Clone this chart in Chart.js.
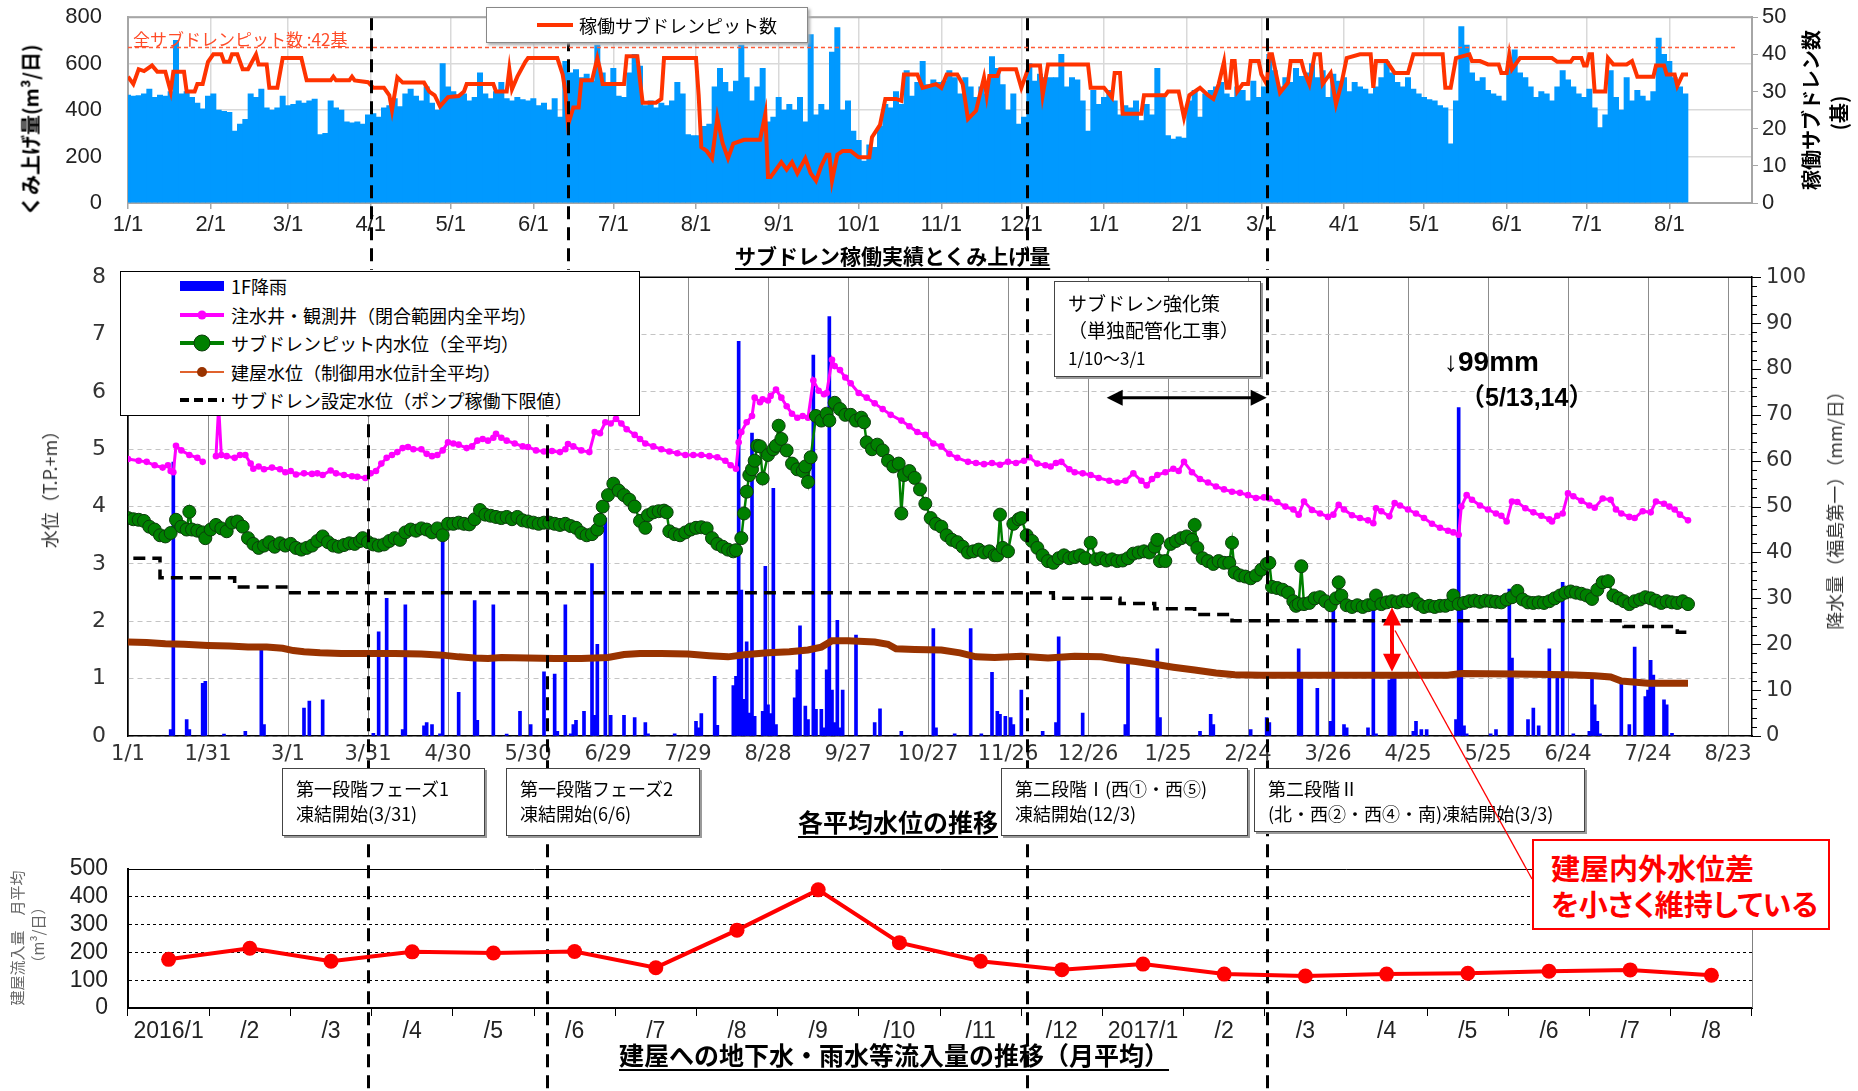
<!DOCTYPE html>
<html lang="ja">
<head>
<meta charset="utf-8">
<title>サブドレン稼働実績と各平均水位の推移</title>
<script src="https://cdn.jsdelivr.net/npm/chart.js@4.4.1/dist/chart.umd.min.js"></script>
<style>
  body { margin: 0; background: #fff; font-family: "Noto Sans CJK JP", sans-serif; color: #000; }
  #page { position: relative; width: 1858px; height: 1091px; overflow: hidden; }
  canvas { position: absolute; left: 0; }
  #pumpCanvas { top: 0; }
  #levelCanvas { top: 262px; }
  #inflowCanvas { top: 850px; }
  .abs { position: absolute; white-space: nowrap; }
  .title { font-weight: bold; text-decoration: underline; text-underline-offset: 4px; }
  .vt { position: absolute; white-space: nowrap; transform: translate(-50%, -50%) rotate(-90deg); }
  .note { position: absolute; background: #fff; border: 1px solid #444; box-shadow: 2px 2px 0 #9a9a9a;
          font-size: 18px; line-height: 25px; padding: 7px 0 0 13px; box-sizing: border-box; white-space: nowrap; }
  #pumpLegend { left: 486px; top: 7px; width: 322px; height: 36px; border: 1px solid #888; background: #fff;
                box-shadow: 2px 2px 3px #aaa; box-sizing: border-box; display: flex; align-items: center; font-size: 18px; }
  #pumpLegend svg { margin: 0 6px 0 50px; }
  #levelLegend { left: 120px; top: 271px; width: 520px; height: 145px; border: 1.5px solid #000; background: #fff;
                 box-sizing: border-box; font-size: 18px; }
  .lg { height: 28.5px; display: flex; align-items: center; }
  .lg svg { margin: 0 6px 0 58px; }
  #callout { left: 1532px; top: 839px; width: 298px; height: 91px; border: 2.5px solid #ff0000; background: #fff;
             box-sizing: border-box; color: #ff0000; font-weight: bold; font-size: 29px; line-height: 36px;
             padding: 8px 0 0 17px; font-feature-settings: "palt"; }
  #leader { position: absolute; left: 0; top: 0; pointer-events: none; }
</style>
</head>
<body>
<div id="page">
  <canvas id="pumpCanvas" width="1858" height="270"></canvas>
  <canvas id="levelCanvas" width="1858" height="829"></canvas>
  <canvas id="inflowCanvas" width="1858" height="241"></canvas>

  <!-- top chart texts -->
  <div id="pumpLegend" class="abs"><svg width="36" height="10"><line x1="0" y1="5" x2="36" y2="5" stroke="#ff3300" stroke-width="4"/></svg><span>稼働サブドレンピット数</span></div>
  <div class="abs" style="left:133px; top:26px; font-size:17px; color:#ff4b28;">全サブドレンピット数 :42基</div>
  <div class="vt" style="left:30px; top:130px; font-size:20px; font-weight:bold;">くみ上げ量(m³/日)</div>
  <div class="vt" style="left:1810px; top:110px; font-size:20px; font-weight:bold;">稼働サブドレン数</div>
  <div class="vt" style="left:1838px; top:113px; font-size:20px; font-weight:bold;">(基)</div>
  <div class="abs title" style="left:735px; top:240px; font-size:21px; line-height:30px;">サブドレン稼働実績とくみ上げ量</div>

  <!-- middle chart texts -->
  <div id="levelLegend" class="abs">
    <div class="lg"><svg width="46" height="20"><rect x="1" y="5" width="44" height="10" fill="#0000ff"/></svg><span>1F降雨</span></div>
    <div class="lg"><svg width="46" height="20"><line x1="1" y1="10" x2="45" y2="10" stroke="#ff00ff" stroke-width="4"/><circle cx="23" cy="10" r="4.5" fill="#ff00ff"/></svg><span>注水井・観測井（閉合範囲内全平均）</span></div>
    <div class="lg"><svg width="46" height="20"><line x1="1" y1="10" x2="45" y2="10" stroke="#008000" stroke-width="4"/><circle cx="23" cy="10" r="8" fill="#008000" stroke="#0b3d0b" stroke-width="1"/></svg><span>サブドレンピット内水位（全平均）</span></div>
    <div class="lg"><svg width="46" height="20"><line x1="1" y1="10" x2="45" y2="10" stroke="#e0622d" stroke-width="2"/><circle cx="23" cy="10" r="5" fill="#993300"/></svg><span>建屋水位（制御用水位計全平均）</span></div>
    <div class="lg"><svg width="46" height="20"><line x1="1" y1="10" x2="45" y2="10" stroke="#000" stroke-width="4" stroke-dasharray="9,5"/></svg><span>サブドレン設定水位（ポンプ稼働下限値）</span></div>
  </div>
  <div class="vt" style="left:49px; top:485px; font-size:18px; color:#333;">水位（T.P.+m）</div>
  <div class="vt" style="left:1834px; top:506px; font-size:18px; color:#333;">降水量（福島第一）（mm/日）</div>
  <div class="note" style="left:1054px; top:281px; width:207px; height:96px; font-size:19px; line-height:27px; padding-top:7px;">サブドレン強化策<br>（単独配管化工事）<br><span style="font-size:17px;">1/10～3/1</span></div>
  <div class="abs" style="left:1444px; top:344px; font-size:28px; line-height:36px; font-weight:bold; font-family:'Liberation Sans','Noto Sans CJK JP',sans-serif;">↓99mm</div>
  <div class="abs" style="left:1460px; top:381px; font-size:25px; line-height:32px; font-weight:bold; font-family:'Liberation Sans','Noto Sans CJK JP',sans-serif;">（5/13,14）</div>

  <div class="note" style="left:282px; top:768px; width:203px; height:68px;">第一段階フェーズ1<br>凍結開始(3/31)</div>
  <div class="note" style="left:506px; top:768px; width:194px; height:68px;">第一段階フェーズ2<br>凍結開始(6/6)</div>
  <div class="note" style="left:1001px; top:768px; width:247px; height:68px;">第二段階Ⅰ(西①・西⑤)<br>凍結開始(12/3)</div>
  <div class="note" style="left:1254px; top:768px; width:331px; height:64px;">第二段階Ⅱ<br>(北・西②・西④・南)凍結開始(3/3)</div>
  <div class="abs title" style="left:798px; top:804px; font-size:25px; line-height:34px;">各平均水位の推移</div>

  <!-- bottom chart texts -->
  <div class="vt" style="left:16px; top:938px; font-size:15px; color:#666;">建屋流入量　月平均</div>
  <div class="vt" style="left:37px; top:935px; font-size:15px; color:#666;">（m³/日）</div>
  <div class="abs title" style="left:619px; top:1037px; font-size:25px; line-height:34px;">建屋への地下水・雨水等流入量の推移（月平均）</div>
  <div id="callout" class="abs">建屋内外水位差<br>を小さく維持している</div>

  <svg id="leader" width="1858" height="1091"></svg>
</div>

<script>
// ===============================
//  DATA (day 0 = 2016/1/1)
// ===============================

// --- サブドレン稼働実績とくみ上げ量 ---
const pumpFirstDay = 0;
const pumpStepDays = 2;
const pumpVolume = [
  465,460,462,470,490,455,465,460,480,700,
  470,480,455,430,405,460,470,400,395,390,
  310,340,360,470,455,490,410,400,410,460,
  420,425,440,430,440,447,295,300,440,410,
  400,350,345,350,340,380,385,370,410,420,
  450,415,470,490,460,440,500,430,400,600,
  500,480,465,470,440,455,560,470,450,480,
  520,450,440,455,445,440,450,420,430,400,
  450,370,610,560,575,540,555,525,680,560,
  510,580,460,455,560,640,590,420,440,410,
  430,420,440,520,470,295,290,290,330,340,
  500,580,520,480,525,680,540,440,500,580,
  350,370,455,400,425,400,455,350,725,380,
  425,400,650,755,400,440,310,270,180,250,
  240,330,425,410,480,425,570,460,520,610,
  510,530,520,525,570,540,470,540,500,455,
  500,470,630,580,510,400,470,340,370,600,
  525,555,540,540,540,640,500,540,530,440,
  310,485,425,455,485,440,380,420,410,440,
  355,425,380,580,455,290,275,285,280,440,
  485,370,470,485,500,520,470,455,500,485,
  440,525,455,500,640,570,500,540,520,580,
  545,560,600,540,570,455,555,525,540,480,
  520,500,490,470,500,540,610,560,520,500,
  540,490,470,455,445,440,420,410,255,440,
  760,680,560,525,540,485,470,460,440,610,
  660,560,540,500,455,480,470,440,500,570,
  530,500,470,455,490,410,325,380,570,455,
  400,540,440,485,460,440,480,710,640,610,
  540,500,470
];
const pitDays = [
  0,2,4,6,9,11,14,16,17,21,
  22,25,26,28,30,32,35,36,38,39,
  41,43,45,48,49,52,53,56,58,65,
  67,76,77,78,83,84,85,90,92,96,
  98,99,101,103,111,113,115,117,120,124,
  126,127,137,138,142,143,144,146,149,150,
  161,163,164,165,167,169,170,174,176,177,
  178,186,187,191,192,193,198,200,201,213,
  214,215,217,219,221,223,225,227,231,237,
  239,240,241,243,245,247,249,251,254,256,
  258,260,262,263,264,266,268,271,274,278,
  279,282,284,288,290,291,296,298,303,305,
  307,311,313,315,318,321,322,323,326,327,
  333,335,338,342,343,345,360,361,366,369,
  370,372,373,380,381,389,390,394,396,398,
  402,405,407,409,411,412,413,414,415,416,
  418,420,421,424,425,427,428,429,432,435,
  436,440,441,443,445,447,448,451,453,455,
  457,462,466,467,468,472,475,480,482,493,
  494,496,498,503,504,507,510,514,515,517,
  518,519,522,534,536,541,542,545,546,547,
  548,549,550,554,555,557,562,564,566,572,
  573,576,577,580,581,583,585
];
const pitCount = [
  34,32,36,35.5,37,35.3,35.3,30,35.3,35.3,
  30,30,32,32,38,40,40,38,38,40,
  40,36,36,40,37.3,37.3,31,31,39,39,
  33,33,34,33,33,34,33,32.5,31,31,
  29,25,33.8,32.4,32.4,30,29,26,28.5,28.8,
  30,32,32,30,30,36,30.6,34,38,39,
  39,34.6,30,21,25.7,25.7,33,33,39,36,
  32,32,39.5,39.5,33,27,27,28,39,39,
  29,15,14,12,23,16,12,16,17,17,
  24,7,7,9,11,9,11,8,12,8,
  6,10,13,13,6,13,14,14,12.3,12.3,
  17.7,21,28,28,27.5,34.6,34.6,31,32,31,
  34.6,34.6,32,22.6,24.8,33.8,29,34.2,34.2,36,
  36,31,37,37,29,37.3,37.3,31,31,28.4,
  35,35,24,24,29,29,30,30,23,29,
  31,29,28,32,38,31,31,38.2,38.2,30,
  32,32,38.2,38.2,34.6,32,40,40,29.7,32.4,
  38.2,38.2,35.5,32,40,40,32,35,26.6,32,
  39,40,40,31,38.2,38.2,35,35,40,40,
  31,31,39,40,38.2,38.2,37.3,37.3,35,35,
  40,36,39,39,38,38,39,39,37,37,
  40,40,30,30,39,37.3,37.3,38.2,34,34,
  37,37,34.6,34.6,31.5,34.6,34.6
];
const totalPits = 42;
const topTickDays = [0,31,60,91,121,152,182,213,244,274,305,335,366,397,425,456,486,517,547,578];
const topTickLabels = ['1/1','2/1','3/1','4/1','5/1','6/1','7/1','8/1','9/1','10/1','11/1','12/1',
                       '1/1','2/1','3/1','4/1','5/1','6/1','7/1','8/1'];
const topFreezeDays = [91, 165, 337, 427];

// --- 各平均水位の推移 ---
const levelTickDays = [0,30,60,90,120,150,180,210,240,270,300,330,360,390,420,450,480,510,540,570,600];
const levelTickLabels = ['1/1','1/31','3/1','3/31','4/30','5/30','6/29','7/29','8/28','9/27','10/27',
                         '11/26','12/26','1/25','2/24','3/26','4/25','5/25','6/24','7/24','8/23'];
const freezeDays = [90, 157, 337, 427];

const gwDays = [
  0,4,7,10,13,15,16,17,18,20,
  23,26,28,30,33,34,35,37,40,42,
  44,46,47,49,51,54,57,59,61,63,
  66,69,71,73,76,78,81,84,86,89,
  91,93,95,97,99,101,103,105,107,110,
  112,114,116,118,120,122,124,127,129,131,
  133,135,137,138,140,142,145,148,150,153,
  156,159,162,164,165,167,170,173,175,177,
  179,181,183,185,187,190,192,194,197,200,
  203,206,209,212,215,218,221,224,226,228,
  229,230,232,234,235,237,238,240,241,243,
  245,247,249,251,253,255,257,259,261,262,
  264,265,267,269,271,274,277,280,283,286,
  290,293,296,299,302,305,308,311,315,318,
  321,324,327,330,333,336,338,341,344,346,
  348,350,353,355,358,361,364,368,371,374,
  377,380,382,384,386,389,392,394,396,399,
  402,405,408,411,414,417,420,423,426,428,
  431,434,437,439,441,444,447,450,452,454,
  456,459,462,465,467,468,470,473,475,477,
  480,483,486,489,492,495,497,499,500,502,
  504,507,510,513,515,517,519,521,524,527,
  530,533,534,536,538,540,542,545,548,550,
  553,556,558,560,563,565,568,571,573,576,
  578,580,582,585
];
const gwLevel = [
  4.83,4.8,4.78,4.72,4.68,4.72,4.62,4.6,5.06,4.98,
  4.9,4.85,4.78,null,4.88,5.75,4.9,4.88,4.85,4.9,
  4.9,4.75,4.66,4.7,4.65,4.68,4.65,4.6,4.62,4.56,
  4.58,4.57,4.58,4.55,4.63,4.58,4.55,4.53,4.52,4.5,
  4.58,4.62,4.75,4.85,4.9,4.95,5.02,5.04,5.0,5.0,
  4.92,4.88,4.9,4.98,5.12,5.1,5.08,5.02,5.05,5.15,
  5.18,5.15,5.2,5.27,5.2,5.15,5.1,5.05,5.04,4.98,
  4.96,4.97,4.95,5.0,5.09,5.05,4.98,4.95,5.3,5.28,
  5.47,5.45,5.53,5.45,5.35,5.25,5.18,5.1,5.05,5.0,
  4.96,4.93,4.9,4.9,4.9,4.88,4.86,4.8,4.72,4.66,
  5.12,5.3,5.47,5.58,5.9,5.82,5.87,5.85,5.93,6.04,
  5.9,5.75,5.62,5.55,5.58,5.55,6.2,6.02,5.96,5.98,
  6.56,6.45,6.38,6.25,6.15,5.98,5.9,5.8,5.7,5.6,
  5.5,5.4,5.3,5.25,5.1,5.05,4.92,4.85,4.78,4.76,
  4.74,4.76,4.73,4.78,4.76,4.8,4.86,4.75,4.72,4.7,
  4.76,4.78,4.65,4.6,4.58,4.55,4.5,4.45,4.42,4.45,
  4.58,4.45,4.37,4.48,4.55,4.6,4.66,4.62,4.78,4.6,
  4.48,4.42,4.35,4.3,4.26,4.24,4.2,4.15,4.16,4.14,
  4.08,4.0,3.95,3.86,4.09,3.94,3.88,3.82,3.86,4.03,
  3.95,3.85,3.8,3.76,3.71,3.97,3.92,3.83,4.06,4.02,
  3.95,3.88,3.8,3.7,3.63,3.58,3.55,3.51,4.0,4.2,
  4.12,4.02,3.95,3.88,3.84,3.74,4.09,4.08,3.97,3.9,
  3.84,3.78,3.74,3.84,3.88,4.23,4.18,4.1,4.02,3.98,
  4.14,4.12,3.95,3.88,3.82,3.8,3.92,3.9,4.09,4.05,
  4.0,3.95,3.86,3.76
];

const pitLevelDays = [
  0,2,4,6,8,10,12,14,16,18,
  20,22,23,24,26,28,29,31,33,35,
  37,39,41,43,45,47,49,51,53,55,
  57,59,61,63,65,67,69,71,73,75,
  77,79,81,83,85,87,88,90,92,94,
  96,98,100,102,104,106,108,110,112,114,
  116,118,120,122,124,126,128,130,132,134,
  136,138,140,142,144,146,148,150,152,154,
  156,158,160,162,164,166,168,170,172,174,
  176,177,178,180,182,184,186,188,190,192,
  194,195,197,199,201,202,203,205,207,209,
  211,213,215,217,219,221,223,225,227,228,
  230,231,232,233,234,235,236,237,238,240,
  242,243,244,245,247,249,251,253,254,255,
  256,258,260,262,263,265,267,269,271,273,
  275,276,277,279,281,283,285,287,289,290,
  291,293,295,297,299,301,303,305,307,309,
  311,313,315,317,319,321,323,325,326,327,
  328,330,332,334,335,337,339,341,343,345,
  347,349,351,353,355,357,359,361,363,365,
  367,369,371,373,375,377,379,381,383,385,
  386,387,389,391,393,395,397,399,400,401,
  403,405,407,409,411,413,414,415,417,419,
  421,423,425,427,428,429,431,433,435,437,
  438,439,440,441,443,445,447,449,451,453,
  454,455,457,459,461,463,465,467,468,470,
  472,474,476,478,480,482,484,486,488,490,
  492,494,496,497,499,501,503,505,507,509,
  511,513,515,517,519,521,523,525,527,529,
  531,533,535,537,539,541,543,545,547,549,
  551,553,555,557,559,561,563,565,567,569,
  571,573,575,577,579,581,583,585
];
const pitLevel = [
  3.8,3.78,3.77,3.75,3.65,3.6,3.5,3.48,3.54,3.77,
  3.65,3.6,3.91,3.6,3.58,3.55,3.45,3.6,3.68,3.62,
  3.57,3.72,3.74,3.65,3.45,3.35,3.28,3.32,3.38,3.3,
  3.36,3.32,3.35,3.28,3.25,3.28,3.32,3.4,3.48,3.38,
  3.32,3.3,3.33,3.36,3.35,3.4,3.45,3.38,3.34,3.32,
  3.34,3.4,3.45,3.42,3.55,3.6,3.58,3.62,3.6,3.55,
  3.62,3.5,3.7,3.7,3.72,3.7,3.69,3.78,3.94,3.86,
  3.84,3.82,3.8,3.82,3.78,3.82,3.76,3.74,3.72,3.7,
  3.72,3.72,3.7,3.68,3.7,3.66,3.63,3.54,3.5,3.52,
  3.6,3.77,4.0,4.2,4.4,4.28,4.2,4.12,4.0,3.75,
  3.63,3.85,3.9,3.92,3.93,3.9,3.57,3.52,3.5,3.55,
  3.6,3.63,3.64,3.62,3.45,3.35,3.3,3.25,3.22,3.24,
  3.45,3.88,4.26,4.55,4.65,4.8,5.06,5.05,4.49,4.9,
  5.0,5.06,5.41,5.18,4.98,4.75,4.65,4.62,4.7,4.43,
  4.86,5.58,5.5,5.62,5.5,5.81,5.7,5.6,5.6,5.5,
  5.55,5.47,5.12,5.0,5.08,4.98,4.8,4.7,4.75,3.88,
  4.55,4.62,4.5,4.3,4.05,3.8,3.7,3.65,3.5,3.42,
  3.38,3.3,3.2,3.22,3.25,3.2,3.22,3.15,3.15,3.86,
  3.28,3.22,3.7,3.78,3.8,3.5,3.4,3.28,3.15,3.05,
  3.02,3.1,3.15,3.1,3.12,3.15,3.1,3.37,3.08,3.1,
  3.06,3.08,3.05,3.06,3.1,3.18,3.2,3.22,3.2,3.3,
  3.42,3.05,3.05,3.35,3.4,3.45,3.48,3.42,3.68,3.28,
  3.1,3.05,3.0,3.05,3.02,3.02,3.37,2.85,2.8,2.78,
  2.75,2.8,2.9,3.0,3.02,2.6,2.58,2.55,2.5,2.35,
  2.27,2.3,2.96,2.3,2.32,2.4,2.42,2.35,2.28,2.4,
  2.68,2.45,2.28,2.25,2.28,2.25,2.28,2.3,2.45,2.3,
  2.33,2.35,2.33,2.36,2.35,2.39,2.3,2.25,2.27,2.25,
  2.27,2.27,2.3,2.45,2.3,2.32,2.35,2.36,2.34,2.36,
  2.35,2.34,2.33,2.38,2.42,2.53,2.38,2.33,2.32,2.33,
  2.32,2.35,2.4,2.45,2.5,2.52,2.5,2.48,2.45,2.39,
  2.55,2.68,2.7,2.45,2.4,2.35,2.3,2.35,2.38,2.42,
  2.4,2.36,2.32,2.35,2.33,2.32,2.35,2.3
];

const buildingDays = [
  0,7,14,21,30,38,45,52,58,62,
  66,72,80,90,100,110,118,124,130,135,
  140,150,160,170,180,186,192,200,210,218,
  225,232,240,248,255,260,264,270,280,285,
  288,295,305,312,318,325,335,345,355,365,
  372,378,385,392,400,408,415,425,440,460,
  480,495,500,520,540,550,556,560,570,585
];
const buildingLevel = [
  1.64,1.63,1.61,1.6,1.58,1.57,1.55,1.55,1.53,1.49,
  1.47,1.45,1.44,1.44,1.44,1.43,1.41,1.38,1.36,1.35,
  1.37,1.36,1.35,1.35,1.37,1.42,1.44,1.44,1.43,1.4,
  1.38,1.42,1.45,1.47,1.5,1.55,1.66,1.66,1.64,1.6,
  1.52,1.51,1.5,1.45,1.38,1.37,1.39,1.36,1.39,1.38,
  1.33,1.3,1.25,1.2,1.15,1.1,1.07,1.06,1.06,1.06,
  1.06,1.06,1.09,1.08,1.07,1.05,1.03,0.96,0.92,0.92
];

const setDays = [2,12,40,61,347,372,385,400,414,561,581,586];
const setLevel = [3.1,2.76,2.6,2.5,2.4,2.31,2.22,2.12,2.01,1.91,1.81,1.81];

const rainDays = [
  16,17,22,23,28,29,36,44,50,51,
  66,68,73,92,94,97,103,104,111,112,
  114,117,118,124,130,131,137,142,147,151,
  156,160,161,164,166,167,168,171,174,175,
  176,179,181,186,190,194,195,205,213,214,
  215,220,221,227,228,229,230,231,232,233,
  234,235,238,239,240,241,242,243,250,251,
  252,254,255,257,258,260,261,262,263,264,
  265,266,267,268,273,280,282,290,302,303,
  310,316,320,324,326,327,329,331,332,335,
  343,348,349,358,374,375,386,387,402,406,
  407,421,427,428,439,440,446,451,452,456,
  457,465,467,468,473,474,475,482,483,485,
  487,498,499,500,501,502,511,513,518,519,
  525,527,529,533,536,538,542,548,549,550,
  551,552,560,563,565,569,570,571,572,576,
  577,579
];
const rainMm = [
  1.4,59.7,3.6,1.4,11.5,11.9,0.4,1,18.7,2.5,
  6.1,7.6,7.9,0.6,22.7,30,1.4,28.6,2.2,2.9,
  2.5,0.5,42.8,9.5,29.5,3.4,28.6,0.4,5.4,2.5,
  14,13.5,1,28.6,0.5,2.5,3.4,5.4,37.6,4.5,
  20,47.5,4.5,4.5,4,2.9,0.5,0.5,3.2,1.8,
  4.9,13,2.3,11,13,86,31.8,8,20.5,5,
  66,4.3,5.4,37,6.8,4.9,54,2.5,8.3,14.4,
  24,6.5,3.6,83,5.8,5.8,1.8,14.4,91.4,10,
  2.9,25.2,1.8,10,22,2.9,5.9,1,23.4,1.8,
  0.5,23.4,0.5,13.9,5.4,4.7,4.3,4,2.5,10,
  1,2.9,21.6,5,2.5,17,19,4,1,4.7,
  2.5,1.4,4,2.9,19,12.4,10.4,3.2,27.7,2.5,
  1.8,1.8,29,0.5,12.2,13.3,13,1,3.2,1.4,
  1.4,3.6,71.6,28,2.2,0.5,0.5,1.4,32,17,
  3.6,6.1,2.2,19,12.6,33.5,0.5,1,12.6,6.8,
  3.2,0.5,11.9,2.5,19.4,8.6,10,16.5,13.3,7.9,
  6.8,0.6
];

// annotation anchors (days / levels)
const strengthenSpan = [367, 427];
const strengthenArrowLevel = 5.9;
const gapArrowDay = 474;
const gapArrowLevels = [1.12, 2.24];
const leaderStartLevel = 1.84;

// --- 建屋への地下水・雨水等流入量の推移（月平均） ---
const inflowMonths = ['2016/1','/2','/3','/4','/5','/6','/7','/8','/9','/10','/11','/12',
                      '2017/1','/2','/3','/4','/5','/6','/7','/8'];
const inflowValues = [175,215,168,202,198,203,145,280,425,235,168,138,158,122,115,122,125,132,137,118];

// ===============================
//  HELPERS / PLUGINS
// ===============================
Chart.defaults.font.family = "'Liberation Sans', Arial, sans-serif";
Chart.defaults.color = '#222';

const fixWidth = w => s => { s.width = w; };
const fixHeight = h => s => { s.height = h; };
const xy = (xs, ys) => xs.map((x, i) => ({ x: x, y: ys[i] }));
// invisible tick marks keep labels away from the axis without padding the chart area
const gapTicks = len => ({ drawTicks: true, tickLength: len, tickColor: 'rgba(0,0,0,0)' });

const freezeLinePlugin = {
    id: 'freezeLines',
    afterDatasetsDraw(chart, args, opts) {
        const { ctx, chartArea } = chart;
        const x = chart.scales.x;
        ctx.save();
        ctx.strokeStyle = '#000';
        ctx.lineWidth = 3;
        ctx.setLineDash([13, 8]);
        opts.days.forEach(d => {
            const px = Math.round(x.getPixelForValue(d)) + 0.5;
            ctx.beginPath();
            ctx.moveTo(px, chartArea.top);
            ctx.lineTo(px, chart.height);
            ctx.stroke();
        });
        ctx.restore();
    }
};

const pumpFrame = {
    id: 'pumpFrame',
    afterDatasetsDraw(chart) {
        const { ctx, chartArea: a, scales: { y2 } } = chart;
        const py = Math.round(y2.getPixelForValue(totalPits)) + 0.5;
        ctx.save();
        ctx.strokeStyle = '#ff5a36';
        ctx.lineWidth = 1.5;
        ctx.setLineDash([4, 3]);
        ctx.beginPath();
        ctx.moveTo(a.left, py);
        ctx.lineTo(a.right - 14, py);
        ctx.stroke();
        ctx.setLineDash([]);
        ctx.strokeStyle = '#a6a6a6';
        ctx.lineWidth = 2;
        ctx.beginPath();
        ctx.moveTo(a.left, a.top);
        ctx.lineTo(a.right, a.top);
        ctx.stroke();
        ctx.restore();
    }
};

function arrowHead(ctx, x, y, dx, dy, len, half) {
    // tip at (x, y), pointing in direction (dx, dy)
    ctx.beginPath();
    ctx.moveTo(x, y);
    ctx.lineTo(x - dx * len - dy * half, y - dy * len + dx * half);
    ctx.lineTo(x - dx * len + dy * half, y - dy * len - dx * half);
    ctx.closePath();
    ctx.fill();
}

const levelExtras = {
    id: 'levelExtras',
    afterDatasetsDraw(chart) {
        const { ctx, chartArea: a, scales: { x, y, y2 } } = chart;
        ctx.save();
        // top frame
        ctx.strokeStyle = '#000';
        ctx.lineWidth = 1.5;
        ctx.beginPath();
        ctx.moveTo(a.left, a.top);
        ctx.lineTo(a.right, a.top);
        ctx.stroke();
        // rain axis tick marks
        ctx.lineWidth = 1;
        for (let v = 0; v <= 100; v += 2) {
            const py = Math.round(y2.getPixelForValue(v)) + 0.5;
            ctx.beginPath();
            ctx.moveTo(a.right, py);
            ctx.lineTo(a.right + (v % 10 ? 5 : 9), py);
            ctx.stroke();
        }
        // strengthening period arrow
        const ay = y.getPixelForValue(strengthenArrowLevel);
        const ax0 = x.getPixelForValue(strengthenSpan[0]);
        const ax1 = x.getPixelForValue(strengthenSpan[1]);
        ctx.fillStyle = '#000';
        ctx.lineWidth = 3;
        ctx.beginPath();
        ctx.moveTo(ax0 + 10, ay);
        ctx.lineTo(ax1 - 10, ay);
        ctx.stroke();
        arrowHead(ctx, ax0, ay, -1, 0, 16, 8);
        arrowHead(ctx, ax1, ay, 1, 0, 16, 8);
        // inner / outer water level gap arrow
        const gx = x.getPixelForValue(gapArrowDay);
        const gy0 = y.getPixelForValue(gapArrowLevels[0]);
        const gy1 = y.getPixelForValue(gapArrowLevels[1]);
        ctx.strokeStyle = '#ff0000';
        ctx.fillStyle = '#ff0000';
        ctx.lineWidth = 4;
        ctx.beginPath();
        ctx.moveTo(gx, gy1 + 14);
        ctx.lineTo(gx, gy0 - 14);
        ctx.stroke();
        arrowHead(ctx, gx, gy1, 0, -1, 18, 9);
        arrowHead(ctx, gx, gy0, 0, 1, 18, 9);
        ctx.restore();
    }
};

const inflowFrame = {
    id: 'inflowFrame',
    afterDraw(chart) {
        const { ctx, chartArea: a } = chart;
        ctx.save();
        ctx.strokeStyle = '#808080';
        ctx.lineWidth = 1;
        ctx.beginPath();
        ctx.moveTo(a.right + 0.5, a.top);
        ctx.lineTo(a.right + 0.5, a.bottom);
        ctx.stroke();
        ctx.restore();
    }
};

// ===============================
//  CHARTS
// ===============================
const pumpChart = new Chart(document.getElementById('pumpCanvas'), {
    type: 'bar',
    data: {
        datasets: [
            {
                type: 'line',
                label: '稼働サブドレンピット数',
                data: xy(pitDays, pitCount),
                yAxisID: 'y2',
                borderColor: '#ff3300',
                borderWidth: 4,
                pointRadius: 0,
                order: 1
            },
            {
                type: 'bar',
                label: 'くみ上げ量',
                data: pumpVolume.map((v, i) => ({ x: pumpFirstDay + i * pumpStepDays, y: v })),
                yAxisID: 'y',
                backgroundColor: '#0099ff',
                barPercentage: 1,
                categoryPercentage: 1,
                order: 2
            }
        ]
    },
    options: {
        responsive: false,
        animation: false,
        events: [],
        layout: { padding: { top: 17, left: 0, right: 0, bottom: 0 } },
        plugins: {
            legend: { display: false },
            tooltip: { enabled: false },
            freezeLines: { days: topFreezeDays }
        },
        scales: {
            x: {
                type: 'linear', min: 0, max: 609, offset: false,
                afterFit: fixHeight(67),
                afterBuildTicks: s => { s.ticks = topTickDays.map(v => ({ value: v })); },
                ticks: { autoSkip: false, maxRotation: 0, padding: 3, font: { size: 22 },
                         callback: (v, i) => topTickLabels[i] },
                grid: { color: '#d9d9d9', lineWidth: 1.5, tickLength: 6, tickColor: '#a6a6a6', offset: false },
                border: { color: '#a6a6a6', width: 2 }
            },
            y: {
                min: 0, max: 800,
                afterFit: fixWidth(128),
                ticks: { stepSize: 200, autoSkip: false, padding: 2, font: { size: 22 } },
                grid: Object.assign({ color: '#d9d9d9', lineWidth: 1.5 }, gapTicks(24)),
                border: { color: '#a6a6a6', width: 2 }
            },
            y2: {
                position: 'right', min: 0, max: 50,
                afterFit: fixWidth(106),
                ticks: { stepSize: 10, autoSkip: false, padding: 4, font: { size: 22 } },
                grid: { drawOnChartArea: false, tickLength: 6, color: '#a6a6a6' },
                border: { color: '#a6a6a6', width: 2 }
            }
        }
    },
    plugins: [freezeLinePlugin, pumpFrame]
});

const levelFont = "'DejaVu Sans', sans-serif";
const levelChart = new Chart(document.getElementById('levelCanvas'), {
    type: 'bar',
    data: {
        datasets: [
            {
                type: 'line', label: 'サブドレン設定水位（ポンプ稼働下限値）',
                data: xy(setDays, setLevel), yAxisID: 'y', stepped: true,
                borderColor: '#000', borderWidth: 3.5, borderDash: [12, 7], pointRadius: 0, order: 1
            },
            {
                type: 'line', label: 'サブドレンピット内水位（全平均）',
                data: xy(pitLevelDays, pitLevel), yAxisID: 'y',
                borderColor: '#008000', borderWidth: 2.5,
                pointRadius: 6.5, pointBackgroundColor: '#008000', pointBorderColor: '#0b3d0b', pointBorderWidth: 1,
                order: 2
            },
            {
                type: 'line', label: '注水井・観測井（閉合範囲内全平均）',
                data: xy(gwDays, gwLevel), yAxisID: 'y',
                borderColor: '#ff00ff', backgroundColor: '#ff00ff', borderWidth: 3,
                pointRadius: 3.3, pointBorderWidth: 0, spanGaps: false, order: 3
            },
            {
                type: 'line', label: '建屋水位（制御用水位計全平均）',
                data: xy(buildingDays, buildingLevel), yAxisID: 'y',
                borderColor: '#993300', borderWidth: 7, pointRadius: 0, order: 4
            },
            {
                type: 'bar', label: '1F降雨',
                data: xy(rainDays, rainMm), yAxisID: 'y2',
                backgroundColor: '#0000ff', barThickness: 3, order: 5
            }
        ]
    },
    options: {
        responsive: false,
        animation: false,
        events: [],
        layout: { padding: { top: 10, left: 0, right: 0, bottom: 0 } },
        plugins: {
            legend: { display: false },
            tooltip: { enabled: false },
            freezeLines: { days: freezeDays }
        },
        scales: {
            x: {
                type: 'linear', min: 0, max: 609, offset: false,
                afterFit: fixHeight(355),
                afterBuildTicks: s => { s.ticks = levelTickDays.map(v => ({ value: v })); },
                ticks: { autoSkip: false, maxRotation: 0, padding: 6, color: '#333',
                         font: { family: levelFont, size: 21 },
                         callback: (v, i) => levelTickLabels[i] },
                grid: { color: '#8c8c8c', lineWidth: 1, drawTicks: false, offset: false },
                border: { color: '#000', width: 1.5 }
            },
            y: {
                min: 0, max: 8,
                afterFit: fixWidth(128),
                ticks: { stepSize: 1, autoSkip: false, padding: 2, color: '#333', font: { family: levelFont, size: 22 } },
                grid: Object.assign({ color: '#c4c4c4', lineWidth: 1 }, gapTicks(20)),
                border: { color: '#000', width: 1.5, dash: [5, 4] }
            },
            y2: {
                position: 'right', min: 0, max: 100,
                afterFit: fixWidth(106),
                ticks: { stepSize: 10, autoSkip: false, padding: 2, color: '#333', font: { family: levelFont, size: 21 } },
                grid: Object.assign({ drawOnChartArea: false }, gapTicks(12)),
                border: { color: '#000', width: 1.5 }
            }
        }
    },
    plugins: [freezeLinePlugin, levelExtras]
});

const inflowChart = new Chart(document.getElementById('inflowCanvas'), {
    type: 'line',
    data: {
        labels: inflowMonths,
        datasets: [{
            label: '建屋流入量',
            data: inflowValues,
            borderColor: '#ff0000',
            backgroundColor: '#ff0000',
            borderWidth: 4,
            pointRadius: 7.5,
            pointBorderWidth: 0,
            tension: 0
        }]
    },
    options: {
        responsive: false,
        animation: false,
        events: [],
        layout: { padding: { top: 19, left: 0, right: 106, bottom: 0 } },
        plugins: { legend: { display: false }, tooltip: { enabled: false } },
        scales: {
            x: {
                offset: true,
                afterFit: fixHeight(83),
                ticks: { autoSkip: false, maxRotation: 0, padding: 2, font: { size: 23 } },
                grid: { offset: true, drawOnChartArea: false, tickLength: 8, color: '#000' },
                border: { color: '#000', width: 2 }
            },
            y: {
                min: 0, max: 500,
                afterFit: fixWidth(128),
                ticks: { stepSize: 100, autoSkip: false, padding: 2, font: { size: 23 } },
                grid: Object.assign({ color: '#000', lineWidth: 1 }, gapTicks(18)),
                border: { color: '#000', width: 2,
                          dash: c => (c.tick && c.tick.value === 500 ? [] : [3, 3]) }
            }
        }
    },
    plugins: [inflowFrame]
});

// leader line from the gap arrow to the callout box
(function drawLeader() {
    const canvasTop = document.getElementById('levelCanvas').offsetTop;
    const sx = levelChart.scales.x.getPixelForValue(gapArrowDay) + 3;
    const sy = canvasTop + levelChart.scales.y.getPixelForValue(leaderStartLevel);
    const box = document.getElementById('callout');
    const ex = box.offsetLeft;
    const ey = box.offsetTop + 40;
    document.getElementById('leader').innerHTML =
        '<line x1="' + sx + '" y1="' + sy + '" x2="' + ex + '" y2="' + ey + '" stroke="#ff0000" stroke-width="1.3"/>';
})();
</script>
</body>
</html>
